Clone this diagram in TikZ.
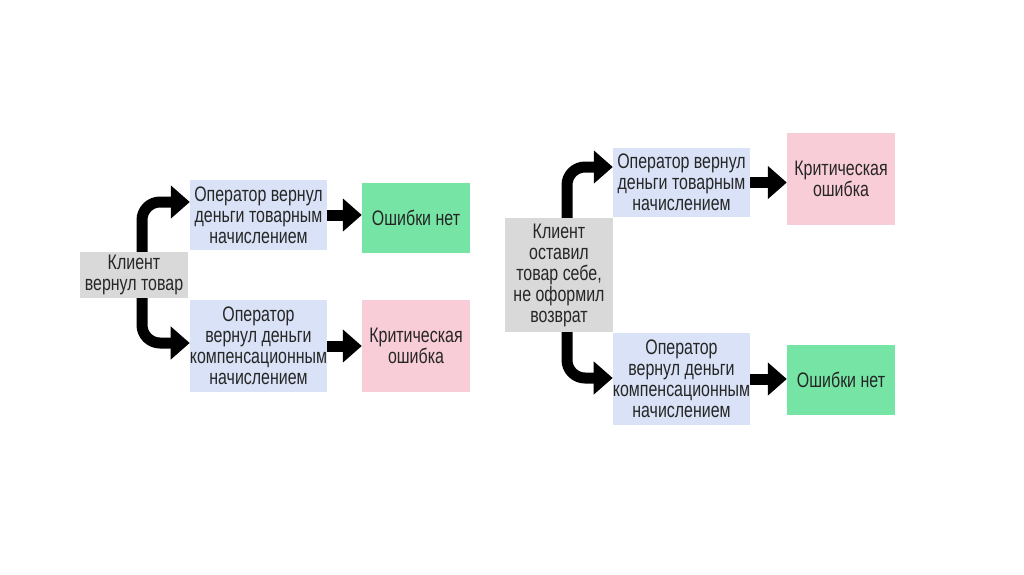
\documentclass[tikz,border=0pt]{standalone}
\usepackage{fontspec}
\setmainfont[FakeStretch=0.76]{Liberation Sans}
\usetikzlibrary{arrows.meta}
\definecolor{clientgray}{RGB}{217, 217, 217}
\definecolor{opblue}{RGB}{217, 226, 246}
\definecolor{okgreen}{RGB}{118, 228, 164}
\definecolor{errpink}{RGB}{249, 205, 215}
\definecolor{textgray}{RGB}{38, 38, 38}

\begin{document}
\begin{tikzpicture}[x=1pt, y=-1pt,
    box/.style={rectangle, inner sep=0pt, align=center, text=textgray,
      font=\fontsize{21}{21}\selectfont},
    client/.style={box, fill=clientgray, minimum width=108pt},
    opbox/.style={box, fill=opblue, minimum width=137pt},
    resbox/.style={box, minimum width=108pt},
    bigarrow/.style={line width=11pt, rounded corners=18pt,
      -{Triangle[length=19pt, width=32pt]}}]
  \useasboundingbox (0,0) rectangle (1024,574);

  % left case
  \node[client, minimum height=46pt] (kl1) at (134,275) {Клиент\\вернул товар};
  \node[opbox, minimum height=70pt] (op1a) at (258.5,215) {Оператор вернул\\деньги товарным\\начислением};
  \node[opbox, minimum height=92pt] (op1b) at (258.5,346) {Оператор\\вернул деньги\\компенсационным\\начислением};
  \node[resbox, fill=okgreen, minimum height=70pt] (res1a) at (416,218) {Ошибки нет};
  \node[resbox, fill=errpink, minimum height=92pt] (res1b) at (416,346) {Критическая\\ошибка};

  \draw[bigarrow] ([xshift=8pt]kl1.north) |- ([yshift=13pt]op1a.west);
  \draw[bigarrow] ([xshift=8pt]kl1.south) |- ([yshift=3pt]op1b.west);
  \draw[bigarrow] (op1a.east) -- (op1a.east -| res1a.west);
  \draw[bigarrow] (op1b.east) -- (op1b.east -| res1b.west);

  % right case
  \node[client, minimum height=114pt] (kl2) at (559,275) {Клиент\\оставил\\товар себе,\\не оформил\\возврат};
  \node[opbox, minimum height=69pt] (op2a) at (681.5,182.5) {Оператор вернул\\деньги товарным\\начислением};
  \node[opbox, minimum height=92pt] (op2b) at (681.5,379) {Оператор\\вернул деньги\\компенсационным\\начислением};
  \node[resbox, fill=errpink, minimum height=92pt] (res2a) at (841,179) {Критическая\\ошибка};
  \node[resbox, fill=okgreen, minimum height=70pt] (res2b) at (841,380) {Ошибки нет};

  \draw[bigarrow] ([xshift=8pt]kl2.north) |- ([yshift=15.5pt]op2a.west);
  \draw[bigarrow] ([xshift=8pt]kl2.south) |- ([yshift=1pt]op2b.west);
  \draw[bigarrow] (op2a.east) -- (op2a.east -| res2a.west);
  \draw[bigarrow] (op2b.east) -- (op2b.east -| res2b.west);
\end{tikzpicture}
\end{document}
